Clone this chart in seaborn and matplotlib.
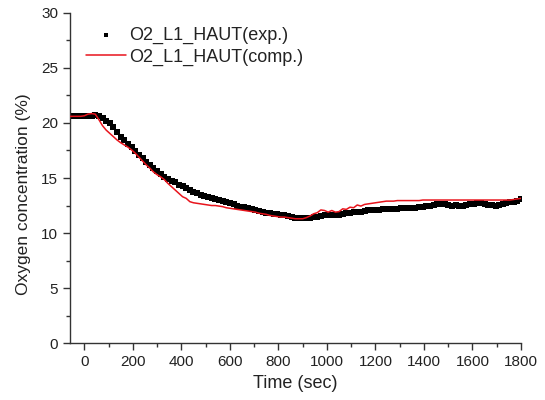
"""
Oxygen concentration at O2_L1_HAUT: experiment vs computation.
Writes out.png (545x400).
"""

import numpy as np
import pandas as pd
import matplotlib
matplotlib.use("Agg")
import matplotlib.pyplot as plt
from matplotlib.ticker import MultipleLocator
import seaborn as sns

# sampling times (s), one reading every 15 s
time_s = np.arange(-60, 1801, 15)

o2_exp = [
    20.6, 20.6, 20.6, 20.6, 20.6, 20.6, 20.65, 20.7, 20.65, 20.45,
    20.2, 19.95, 19.6, 19.2, 18.75, 18.45, 18.1, 17.8, 17.45, 17.1,
    16.8, 16.45, 16.15, 15.88, 15.6, 15.35, 15.1, 14.95, 14.75, 14.6,
    14.4, 14.25, 14.1, 13.9, 13.75, 13.6, 13.5, 13.4, 13.3, 13.2,
    13.1, 13.0, 12.9, 12.8, 12.7, 12.6, 12.5, 12.4, 12.35, 12.25,
    12.2, 12.1, 12.0, 11.9, 11.85, 11.8, 11.75, 11.7, 11.65, 11.6,
    11.55, 11.5, 11.4, 11.35, 11.35, 11.35, 11.4, 11.45, 11.5, 11.55,
    11.6, 11.6, 11.65, 11.65, 11.65, 11.75, 11.8, 11.85, 11.9, 11.9,
    11.95, 12.0, 12.05, 12.05, 12.1, 12.1, 12.15, 12.15, 12.2, 12.2,
    12.2, 12.25, 12.25, 12.25, 12.3, 12.3, 12.35, 12.4, 12.45, 12.5,
    12.55, 12.6, 12.6, 12.6, 12.55, 12.5, 12.55, 12.5, 12.5, 12.55,
    12.6, 12.65, 12.7, 12.7, 12.6, 12.55, 12.55, 12.5, 12.55, 12.65,
    12.75, 12.8, 12.85, 12.95, 13.1,
]

# computed O2 (%)
o2_comp = [
    20.6, 20.6, 20.6, 20.6, 20.65, 20.8, 20.85, 20.8, 20.3, 19.75,
    19.35, 19.05, 18.75, 18.45, 18.2, 18.0, 17.8, 17.55, 17.25, 16.9,
    16.55, 16.2, 15.9, 15.55, 15.3, 15.1, 14.85, 14.5, 14.2, 13.9,
    13.6, 13.3, 13.15, 12.85, 12.75, 12.7, 12.65, 12.6, 12.55, 12.5,
    12.5, 12.45, 12.4, 12.3, 12.25, 12.2, 12.15, 12.1, 12.05, 12.0,
    11.95, 11.9, 11.8, 11.75, 11.7, 11.6, 11.55, 11.5, 11.45, 11.45,
    11.4, 11.35, 11.3, 11.3, 11.3, 11.4, 11.55, 11.75, 11.85, 12.1,
    12.05, 11.9, 12.05, 11.9, 11.95, 12.2, 12.15, 12.35, 12.3, 12.55,
    12.45, 12.6, 12.65, 12.7, 12.75, 12.8, 12.85, 12.9, 12.9, 12.9,
    12.95, 12.95, 12.95, 12.95, 12.95, 12.95, 12.95, 13.0, 13.0, 13.0,
    13.0, 13.0, 13.0, 13.0, 13.0, 13.0, 13.0, 13.0, 13.0, 13.0,
    13.0, 13.0, 13.0, 13.0, 13.0, 13.0, 13.0, 13.0, 13.0, 13.0,
    13.0, 13.0, 13.05, 13.1, 13.15,
]

LABEL_EXP = "O2_L1_HAUT(exp.)"
LABEL_COMP = "O2_L1_HAUT(comp.)"


def main():
    df = pd.DataFrame({"time": time_s, "exp": o2_exp, "comp": o2_comp})

    sns.set_style("ticks")
    plt.rcParams["font.family"] = ["Liberation Sans", "DejaVu Sans"]
    plt.rcParams["font.size"] = 11

    fig = plt.figure(figsize=(5.45, 4.0), dpi=100)
    ax = fig.add_axes([0.128, 0.142, 0.828, 0.826])

    sns.scatterplot(data=df, x="time", y="exp", ax=ax, marker="s", s=13,
                    color="black", linewidth=0, label=LABEL_EXP, zorder=2)
    sns.lineplot(data=df, x="time", y="comp", ax=ax, color="#e8141c",
                 linewidth=1.1, label=LABEL_COMP, zorder=3)

    ax.set_xlim(-60, 1800)
    ax.set_ylim(0, 30)
    ax.xaxis.set_major_locator(MultipleLocator(200))
    ax.xaxis.set_minor_locator(MultipleLocator(100))
    ax.yaxis.set_major_locator(MultipleLocator(5))
    ax.yaxis.set_minor_locator(MultipleLocator(2.5))
    ax.tick_params(which="major", length=5, width=1, colors="#333333",
                   labelcolor="#222222", labelsize=11)
    ax.tick_params(which="minor", length=3, width=1, colors="#333333")
    for side in ("left", "bottom"):
        ax.spines[side].set_color("#333333")
        ax.spines[side].set_linewidth(1)
    sns.despine(ax=ax)

    ax.set_xlabel("Time (sec)", fontsize=13, color="#222222", labelpad=4)
    ax.set_ylabel("Oxygen concentration (%)", fontsize=12.5, color="#222222")
    ax.yaxis.set_label_coords(-0.085, 0.45)

    leg = ax.legend(loc="upper left", bbox_to_anchor=(0.012, 0.99), frameon=False,
                    fontsize=13, handlelength=2.2, handletextpad=0.2,
                    labelspacing=0.25, borderaxespad=0.2, markerscale=0.75)
    for t in leg.get_texts():
        t.set_color("#222222")

    fig.savefig("out.png", dpi=100)


if __name__ == "__main__":
    main()
